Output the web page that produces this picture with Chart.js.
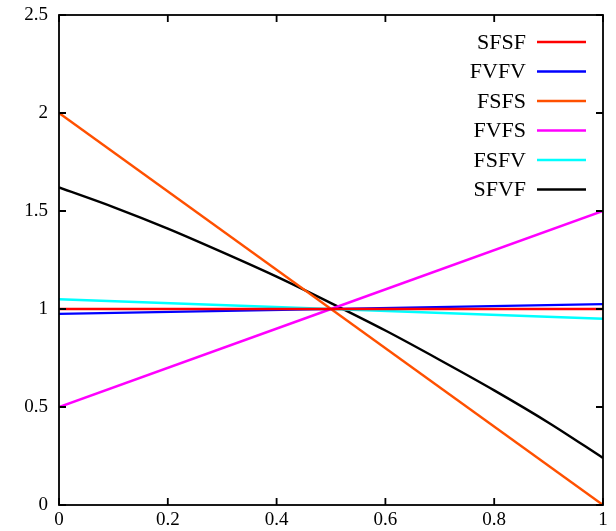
<!DOCTYPE html>
<html>
<head>
<meta charset="utf-8">
<script src="https://cdn.jsdelivr.net/npm/chart.js@4.4.1/dist/chart.umd.min.js"></script>
<style>
  html, body { margin: 0; padding: 0; background: #fff; }
  canvas { display: block; }
</style>
</head>
<body>
<canvas id="chart" width="616" height="531"></canvas>
<script>
// straight-line cases: values at x = 0 and x = 1
var xEnds = [0, 1];
var sfsf = [1.0, 1.0];
var fvfv = [0.975, 1.025];
var fsfs = [2.0, 0.0];
var fvfs = [0.5, 1.5];
var fsfv = [1.05, 0.95];

// curved case, sampled along x
var xCurve = [0, 0.1, 0.2, 0.3, 0.4, 0.5, 0.6, 0.7, 0.8, 0.9, 1];
var sfvf = [1.62, 1.52, 1.41, 1.29, 1.165, 1.03, 0.89, 0.74, 0.585, 0.42, 0.24];

var xTicks = [0, 0.2, 0.4, 0.6, 0.8, 1];
var yTicks = [0, 0.5, 1, 1.5, 2, 2.5];

var FONT = '"Liberation Serif", "Times New Roman", serif';

function pts(xs, ys) {
  return xs.map(function (x, i) { return { x: x, y: ys[i] }; });
}

function series(label, xs, ys, color) {
  return {
    label: label,
    data: pts(xs, ys),
    borderColor: color,
    backgroundColor: color,
    borderWidth: 2.4,
    pointRadius: 0,
    cubicInterpolationMode: 'monotone',
    fill: false
  };
}

// box around the plot with inward tick marks on all four sides
var frame = {
  id: 'frame',
  afterDatasetsDraw: function (chart) {
    var a = chart.chartArea, ctx = chart.ctx;
    var xs = chart.scales.x, ys = chart.scales.y;
    var len = 7;
    ctx.save();
    ctx.strokeStyle = '#000';
    ctx.lineWidth = 1.8;
    ctx.strokeRect(a.left, a.top, a.right - a.left, a.bottom - a.top);
    ctx.beginPath();
    xTicks.forEach(function (v) {
      var px = xs.getPixelForValue(v);
      ctx.moveTo(px, a.bottom); ctx.lineTo(px, a.bottom - len);
      ctx.moveTo(px, a.top); ctx.lineTo(px, a.top + len);
    });
    yTicks.forEach(function (v) {
      var py = ys.getPixelForValue(v);
      ctx.moveTo(a.left, py); ctx.lineTo(a.left + len, py);
      ctx.moveTo(a.right, py); ctx.lineTo(a.right - len, py);
    });
    ctx.stroke();
    ctx.restore();
  }
};

// key in the upper right: label first, line sample after it
var key = {
  id: 'key',
  afterDraw: function (chart) {
    var ctx = chart.ctx;
    ctx.save();
    ctx.font = '22px ' + FONT;
    ctx.textAlign = 'right';
    ctx.textBaseline = 'middle';
    chart.data.datasets.forEach(function (ds, i) {
      var y = 42 + i * 29.5;
      ctx.fillStyle = '#000';
      ctx.fillText(ds.label, 526, y + 1);
      ctx.strokeStyle = ds.borderColor;
      ctx.lineWidth = 2.6;
      ctx.beginPath();
      ctx.moveTo(537, y);
      ctx.lineTo(586, y);
      ctx.stroke();
    });
    ctx.restore();
  }
};

new Chart(document.getElementById('chart'), {
  type: 'line',
  data: {
    datasets: [
      series('SFSF', xEnds, sfsf, '#ff0000'),
      series('FVFV', xEnds, fvfv, '#0000ff'),
      series('FSFS', xEnds, fsfs, '#ff5000'),
      series('FVFS', xEnds, fvfs, '#ff00ff'),
      series('FSFV', xEnds, fsfv, '#00ffff'),
      series('SFVF', xCurve, sfvf, '#000000')
    ]
  },
  options: {
    responsive: false,
    animation: false,
    layout: { autoPadding: false, padding: { top: 15, right: 13, left: 0, bottom: 0 } },
    plugins: { legend: { display: false }, tooltip: { enabled: false } },
    scales: {
      x: {
        type: 'linear',
        min: 0,
        max: 1,
        afterFit: function (s) { s.height = 26; s.paddingLeft = 0; s.paddingRight = 0; },
        afterBuildTicks: function (s) { s.ticks = xTicks.map(function (v) { return { value: v }; }); },
        grid: { display: false, drawTicks: false },
        border: { display: false },
        ticks: {
          color: '#000',
          font: { family: FONT, size: 19 },
          padding: 4,
          maxRotation: 0,
          callback: function (v) { return String(v); }
        }
      },
      y: {
        type: 'linear',
        min: 0,
        max: 2.5,
        afterFit: function (s) { s.width = 59; s.paddingTop = 0; s.paddingBottom = 0; },
        afterBuildTicks: function (s) { s.ticks = yTicks.map(function (v) { return { value: v }; }); },
        grid: { display: false, drawTicks: false },
        border: { display: false },
        ticks: {
          color: '#000',
          font: { family: FONT, size: 19 },
          padding: 11,
          callback: function (v) { return String(v); }
        }
      }
    }
  },
  plugins: [frame, key]
});
</script>
</body>
</html>
